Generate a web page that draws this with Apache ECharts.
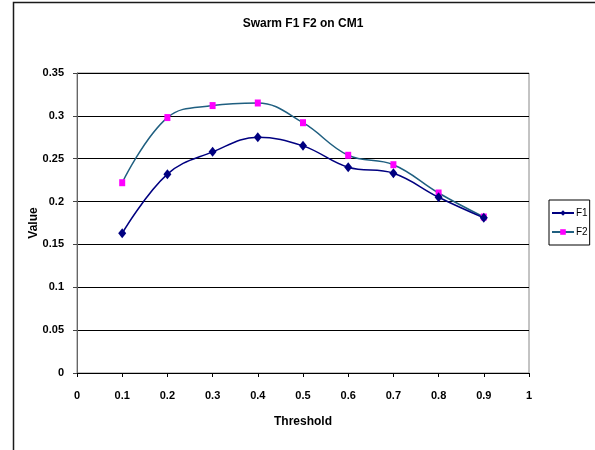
<!DOCTYPE html>
<html>
<head>
<meta charset="utf-8">
<title>Swarm F1 F2 on CM1</title>
<script src="https://cdn.jsdelivr.net/npm/echarts@6/dist/echarts.min.js"></script>
<style>
  html, body { margin: 0; padding: 0; background: #ffffff; }
  #chart { width: 595px; height: 450px; }
</style>
</head>
<body>
<div id="chart"></div>
<script>
// Threshold values on the x axis
const thresholds = [0.1, 0.2, 0.3, 0.4, 0.5, 0.6, 0.7, 0.8, 0.9];
// F1 and F2 scores at each threshold
const f1Values = [0.163, 0.232, 0.258, 0.275, 0.265, 0.240, 0.233, 0.205, 0.181];
const f2Values = [0.222, 0.298, 0.312, 0.315, 0.292, 0.254, 0.243, 0.210, 0.182];
// Axis tick labels
const xTickLabels = ['0', '0.1', '0.2', '0.3', '0.4', '0.5', '0.6', '0.7', '0.8', '0.9', '1'];
const yTickLabels = ['0', '0.05', '0.1', '0.15', '0.2', '0.25', '0.3', '0.35'];

const FONT = "'Liberation Sans', Arial, sans-serif";

const chart = echarts.init(document.getElementById('chart'), null, { renderer: 'canvas' });

chart.setOption({
  backgroundColor: '#ffffff',
  animation: false,
  title: {
    text: 'Swarm F1 F2 on CM1',
    left: 303,
    top: 18,
    textAlign: 'center',
    padding: 0,
    textStyle: { fontFamily: FONT, fontSize: 12, fontWeight: 'bold', color: '#000' }
  },
  graphic: [{
    type: 'rect',
    silent: true,
    shape: { x: 13.5, y: 2.5, width: 700, height: 600 },
    style: { fill: 'none', stroke: '#1a1a1a', lineWidth: 1.5 }
  }],
  legend: {
    orient: 'vertical',
    left: 549,
    top: 200,
    padding: [8, 2, 8, 2],
    itemGap: 9,
    itemWidth: 22,
    itemHeight: 7,
    borderColor: '#000',
    borderWidth: 1,
    textStyle: { fontFamily: FONT, fontSize: 10, color: '#000', padding: [0, 0, 0, -3] },
    data: ['F1', 'F2']
  },
  grid: {
    left: 77,
    top: 73,
    width: 452,
    height: 300,
    show: true,
    backgroundColor: '#ffffff',
    borderColor: '#888888',
    borderWidth: 1
  },
  xAxis: {
    type: 'value',
    min: 0,
    max: 1,
    interval: 0.1,
    name: 'Threshold',
    nameLocation: 'middle',
    nameGap: 43,
    nameMoveOverlap: false,
    nameTextStyle: { fontFamily: FONT, fontSize: 12, fontWeight: 'bold', color: '#000' },
    axisLine: { show: true, lineStyle: { color: '#000', width: 1 } },
    axisTick: { show: true, inside: false, length: 4, lineStyle: { color: '#000' } },
    axisLabel: {
      margin: 17,
      fontFamily: FONT, fontSize: 11, fontWeight: 'bold', color: '#000',
      formatter: (v) => xTickLabels[Math.round(v * 10)]
    },
    splitLine: { show: false }
  },
  yAxis: {
    type: 'value',
    min: 0,
    max: 0.35,
    interval: 0.05,
    name: 'Value',
    nameLocation: 'middle',
    nameGap: 37,
    nameMoveOverlap: false,
    nameRotate: 90,
    nameTextStyle: { fontFamily: FONT, fontSize: 12, fontWeight: 'bold', color: '#000' },
    axisLine: { show: true, lineStyle: { color: '#666', width: 1 } },
    axisTick: { show: true, inside: false, length: 4, lineStyle: { color: '#444' } },
    axisLabel: {
      margin: 13,
      fontFamily: FONT, fontSize: 11, fontWeight: 'bold', color: '#000',
      formatter: (v) => yTickLabels[Math.round(v * 20)]
    },
    splitLine: { show: true, lineStyle: { color: '#000', width: 1 } }
  },
  series: [
    {
      name: 'F1',
      type: 'line',
      smooth: 0.4,
      data: thresholds.map((t, i) => [t, f1Values[i]]),
      symbol: 'diamond',
      symbolSize: [8, 10],
      lineStyle: { color: '#000080', width: 1.5 },
      itemStyle: { color: '#000080' },
      z: 3
    },
    {
      name: 'F2',
      type: 'line',
      smooth: 0.4,
      data: thresholds.map((t, i) => [t, f2Values[i]]),
      symbol: 'rect',
      symbolSize: [6, 7],
      lineStyle: { color: '#1f5f80', width: 1.5 },
      itemStyle: { color: '#ff00ff' },
      z: 2
    }
  ]
});
</script>
</body>
</html>
